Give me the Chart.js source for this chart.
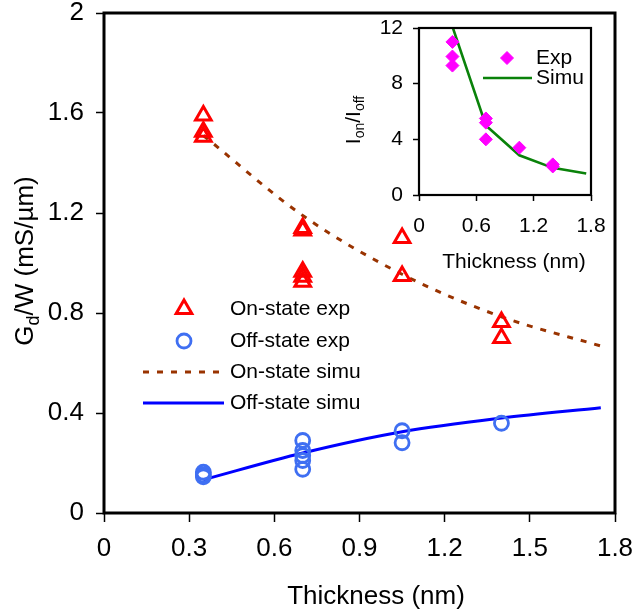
<!DOCTYPE html>
<html lang="en">
<head>
<meta charset="UTF-8">
<title>Gd/W vs thickness</title>
<script src="https://cdn.jsdelivr.net/npm/chart.js"></script>
<style>
  body { margin: 0; background: #fff; }
  .wrap { position: relative; width: 637px; height: 615px; }
  .wrap canvas { position: absolute; left: 0; top: 0; }
</style>
</head>
<body>
<div class="wrap">
  <canvas id="main" width="637" height="615"></canvas>
  <canvas id="inset" width="637" height="615"></canvas>
</div>
<script>
// main plot: measured points
const onExpX = [0.35, 0.35, 0.35, 0.7, 0.7, 0.7, 0.7, 0.7, 1.05, 1.05, 1.4, 1.4];
const onExpY = [1.59, 1.525, 1.505, 1.14, 1.13, 0.965, 0.945, 0.925, 1.10, 0.948, 0.764, 0.70];
const offExpX = [0.35, 0.35, 0.35, 0.7, 0.7, 0.7, 0.7, 0.7, 1.05, 1.05, 1.4];
const offExpY = [0.163, 0.152, 0.145, 0.29, 0.25, 0.23, 0.21, 0.175, 0.329, 0.281, 0.359];

// main plot: simulation curves
const simuX = [0.35, 0.7, 1.05, 1.4, 1.75];
const onSimuY = [1.51, 1.19, 0.955, 0.785, 0.668];
const offSimuY = [0.133, 0.24, 0.325, 0.38, 0.421];

const mainXTicks = [0, 0.3, 0.6, 0.9, 1.2, 1.5, 1.8];
const mainYTicks = [0, 0.4, 0.8, 1.2, 1.6, 2];

// inset: on/off ratio
const ratioExpX = [0.35, 0.35, 0.35, 0.7, 0.7, 0.7, 1.05, 1.4, 1.4];
const ratioExpY = [11.0, 9.95, 9.3, 5.5, 5.2, 4.0, 3.4, 2.2, 2.05];
const ratioSimuY = [12.1, 5.0, 2.85, 1.95, 1.55];

const insetXTicks = [0, 0.6, 1.2, 1.8];
const insetYTicks = [0, 4, 8, 12];

const FONT = "'Liberation Sans', Arial, sans-serif";

function pts(xs, ys) {
  return xs.map((x, i) => ({ x: x, y: ys[i] }));
}

// draws a title made of pieces, some of them subscripts; rot = -90deg for y titles
function drawTitle(ctx, cx, cy, pieces, size, rotated) {
  ctx.save();
  ctx.translate(cx, cy);
  if (rotated) ctx.rotate(-Math.PI / 2);
  ctx.fillStyle = "#000";
  ctx.textBaseline = "middle";
  ctx.textAlign = "left";
  let total = 0;
  pieces.forEach((p) => {
    ctx.font = (p.sub ? Math.round(size * 0.68) : size) + "px " + FONT;
    p.w = ctx.measureText(p.t).width;
    total += p.w;
  });
  let x = -total / 2;
  pieces.forEach((p) => {
    ctx.font = (p.sub ? Math.round(size * 0.68) : size) + "px " + FONT;
    ctx.fillText(p.t, x, p.sub ? size * 0.3 : 0);
    x += p.w;
  });
  ctx.restore();
}

function legendMark(ctx, ds, x, y, x1, x2) {
  ctx.save();
  if (ds.showLine) {
    ctx.strokeStyle = ds.borderColor;
    ctx.lineWidth = ds.borderWidth;
    ctx.setLineDash(ds.borderDash || []);
    ctx.beginPath();
    ctx.moveTo(x1, y);
    ctx.lineTo(x2, y);
    ctx.stroke();
  } else {
    ctx.strokeStyle = ds.pointBorderColor;
    ctx.fillStyle = ds.pointBackgroundColor;
    ctx.lineWidth = ds.pointBorderWidth;
    Chart.helpers.drawPoint(ctx, {
      pointStyle: ds.pointStyle,
      radius: ds.pointRadius,
      rotation: 0,
      borderWidth: ds.pointBorderWidth
    }, x, y);
  }
  ctx.restore();
}

function frame(ctx, area, w) {
  ctx.save();
  ctx.strokeStyle = "#000";
  ctx.lineWidth = w;
  ctx.strokeRect(area.left, area.top, area.right - area.left, area.bottom - area.top);
  ctx.restore();
}

const mainDecor = {
  id: "mainDecor",
  afterDraw(chart) {
    const ctx = chart.ctx;
    frame(ctx, chart.chartArea, 3);
    drawTitle(ctx, 26, 261, [
      { t: "G" }, { t: "d", sub: true }, { t: "/W (mS/\u00b5m)" }
    ], 26, true);
    drawTitle(ctx, 376, 597, [{ t: "Thickness (nm)" }], 26, false);
    const rows = [309, 341, 372, 403];
    ctx.save();
    ctx.font = "21px " + FONT;
    ctx.fillStyle = "#000";
    ctx.textBaseline = "middle";
    chart.data.datasets.forEach((ds, i) => {
      legendMark(ctx, ds, 184, rows[i], 143, 224);
      ctx.fillText(ds.label, 230, rows[i]);
    });
    ctx.restore();
  }
};

const insetDecor = {
  id: "insetDecor",
  afterDraw(chart) {
    const ctx = chart.ctx;
    frame(ctx, chart.chartArea, 2.2);
    drawTitle(ctx, 354, 120, [
      { t: "I" }, { t: "on", sub: true }, { t: "/I" }, { t: "off", sub: true }
    ], 21, true);
    drawTitle(ctx, 514, 262, [{ t: "Thickness (nm)" }], 21, false);
    const rows = [58, 78];
    ctx.save();
    ctx.font = "21px " + FONT;
    ctx.fillStyle = "#000";
    ctx.textBaseline = "middle";
    chart.data.datasets.forEach((ds, i) => {
      legendMark(ctx, ds, 507, rows[i], 483, 532);
      ctx.fillText(ds.label, 536, rows[i]);
    });
    ctx.restore();
  }
};

// fixed axis box sizes, no extra label overflow padding
function fitTo(size, horizontal) {
  return (s) => {
    if (horizontal) s.height = size; else s.width = size;
    s.paddingTop = 0;
    s.paddingBottom = 0;
    s.paddingLeft = 0;
    s.paddingRight = 0;
  };
}

const plainLabel = (v) => String(v);

new Chart(document.getElementById("main"), {
  type: "scatter",
  data: {
    datasets: [
      {
        label: "On-state exp",
        data: pts(onExpX, onExpY),
        pointStyle: "triangle",
        pointRadius: 9,
        pointBorderWidth: 3,
        pointBorderColor: "#ff0000",
        pointBackgroundColor: "rgba(255,255,255,0)",
        showLine: false
      },
      {
        label: "Off-state exp",
        data: pts(offExpX, offExpY),
        pointStyle: "circle",
        pointRadius: 7,
        pointBorderWidth: 2.8,
        pointBorderColor: "#3f6ff2",
        pointBackgroundColor: "rgba(255,255,255,0)",
        showLine: false
      },
      {
        label: "On-state simu",
        data: pts(simuX, onSimuY),
        showLine: true,
        borderColor: "#993300",
        borderWidth: 3,
        borderDash: [6, 8],
        cubicInterpolationMode: "monotone",
        pointRadius: 0
      },
      {
        label: "Off-state simu",
        data: pts(simuX, offSimuY),
        showLine: true,
        borderColor: "#0000ff",
        borderWidth: 3,
        cubicInterpolationMode: "monotone",
        pointRadius: 0
      }
    ]
  },
  options: {
    responsive: false,
    animation: false,
    layout: { padding: { left: 0, top: 13, right: 22, bottom: 0 } },
    plugins: { legend: { display: false }, tooltip: { enabled: false } },
    scales: {
      x: {
        type: "linear",
        min: 0,
        max: 1.8,
        afterFit: fitTo(102, true),
        afterBuildTicks: (s) => { s.ticks = mainXTicks.map((v) => ({ value: v })); },
        border: { display: false },
        grid: { drawOnChartArea: false, drawTicks: true, tickLength: 9, tickWidth: 1.5, color: "#000" },
        ticks: { color: "#000", padding: 14, maxRotation: 0, callback: plainLabel, font: { family: FONT, size: 26, lineHeight: 1 } }
      },
      y: {
        type: "linear",
        min: 0,
        max: 2,
        afterFit: fitTo(104, false),
        afterBuildTicks: (s) => { s.ticks = mainYTicks.map((v) => ({ value: v })); },
        border: { display: false },
        grid: { drawOnChartArea: false, drawTicks: true, tickLength: 8, tickWidth: 1.5, color: "#000" },
        ticks: { color: "#000", padding: 12, callback: plainLabel, font: { family: FONT, size: 26, lineHeight: 1 } }
      }
    }
  },
  plugins: [mainDecor]
});

new Chart(document.getElementById("inset"), {
  type: "scatter",
  data: {
    datasets: [
      {
        label: "Exp",
        data: pts(ratioExpX, ratioExpY),
        pointStyle: "rectRot",
        pointRadius: 6.5,
        pointBorderWidth: 1,
        pointBorderColor: "#ff00ff",
        pointBackgroundColor: "#ff00ff",
        showLine: false
      },
      {
        label: "Simu",
        data: pts(simuX, ratioSimuY),
        showLine: true,
        borderColor: "#0a820a",
        borderWidth: 2.6,
        tension: 0,
        pointRadius: 0
      }
    ]
  },
  options: {
    responsive: false,
    animation: false,
    layout: { padding: { left: 330, top: 28, right: 46, bottom: 335 } },
    plugins: { legend: { display: false }, tooltip: { enabled: false } },
    scales: {
      x: {
        type: "linear",
        min: 0,
        max: 1.8,
        afterFit: fitTo(85, true),
        afterBuildTicks: (s) => { s.ticks = insetXTicks.map((v) => ({ value: v })); },
        border: { display: false },
        grid: { drawOnChartArea: false, drawTicks: true, tickLength: 6, tickWidth: 1.5, color: "#000" },
        ticks: { color: "#000", padding: 15, maxRotation: 0, callback: plainLabel, font: { family: FONT, size: 21, lineHeight: 1 } }
      },
      y: {
        type: "linear",
        min: 0,
        max: 12,
        afterFit: fitTo(89, false),
        afterBuildTicks: (s) => { s.ticks = insetYTicks.map((v) => ({ value: v })); },
        border: { display: false },
        grid: { drawOnChartArea: false, drawTicks: true, tickLength: 6, tickWidth: 1.5, color: "#000" },
        ticks: { color: "#000", padding: 10, callback: plainLabel, font: { family: FONT, size: 21, lineHeight: 1 } }
      }
    }
  },
  plugins: [insetDecor]
});
</script>
</body>
</html>
